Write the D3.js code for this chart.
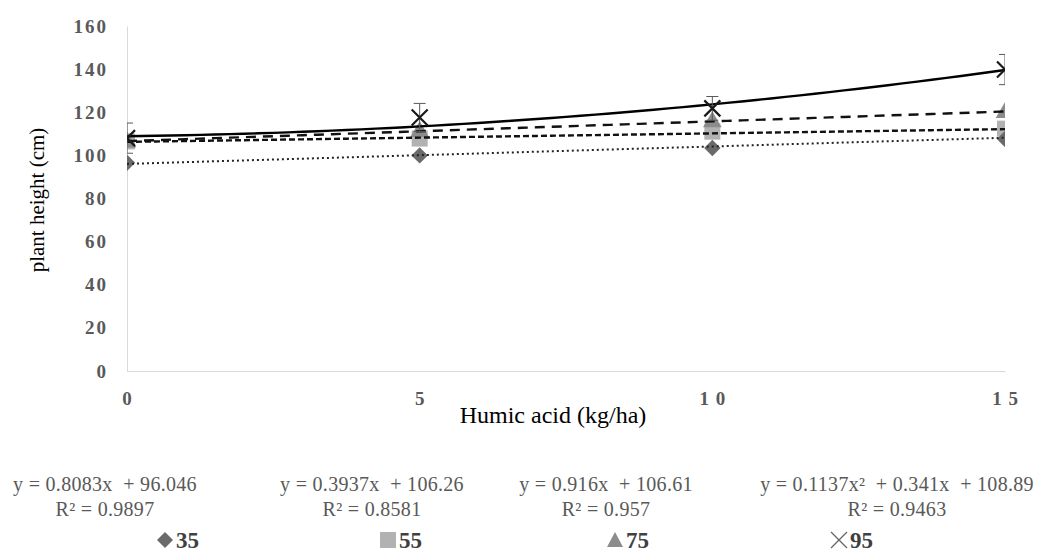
<!DOCTYPE html>
<html>
<head>
<meta charset="utf-8">
<script src="https://d3js.org/d3.v7.min.js"></script>
<style>
  body { margin: 0; background: #fff; }
  svg text { font-family: "Liberation Serif", "Times New Roman", serif; }
</style>
</head>
<body>
<div id="chart"></div>
<script>
// data
const doses = [0, 5, 10, 15];
const yTicks = [0, 20, 40, 60, 80, 100, 120, 140, 160];
const seriesNames = ["35", "55", "75", "95"];
const h35 = [96.6, 100.0, 103.4, 107.6];
const h55 = [106.5, 107.8, 111.0, 112.4];
const h75 = [106.2, 111.0, 115.5, 119.8];
const h95 = [108.0, 117.6, 121.8, 139.8];
const err95 = [7, 6.5, 5.5, 7];
// trendline coefficients [c2, c1, c0] as printed on the chart
const trend35 = [0, 0.8083, 96.046];
const trend55 = [0, 0.3937, 106.26];
const trend75 = [0, 0.916, 106.61];
const trend95 = [0.1137, 0.341, 108.89];
const eqLines = [
  ["y = 0.8083x  + 96.046", "R² = 0.9897"],
  ["y = 0.3937x  + 106.26", "R² = 0.8581"],
  ["y = 0.916x  + 106.61", "R² = 0.957"],
  ["y = 0.1137x²  + 0.341x  + 108.89", "R² = 0.9463"]
];

const W = 1043, H = 552;
const plot = {left: 127, right: 1005, top: 26, bottom: 371};

const svg = d3.select("#chart").append("svg")
  .attr("width", W).attr("height", H);

const x = d3.scaleLinear().domain([0, 15]).range([plot.left, plot.right]);
const y = d3.scaleLinear().domain([0, 160]).range([plot.bottom, plot.top]);

svg.append("defs").append("clipPath").attr("id", "clip")
  .append("rect")
  .attr("x", plot.left).attr("y", plot.top)
  .attr("width", plot.right - plot.left).attr("height", plot.bottom - plot.top);

// axes
const yAxis = svg.append("g")
  .attr("transform", `translate(${plot.left},0)`)
  .call(d3.axisLeft(y).tickValues(yTicks).tickSize(0).tickPadding(19));
yAxis.select(".domain").attr("stroke", "#d9d9d9");
yAxis.selectAll("text")
  .attr("font-size", 19).attr("font-weight", "bold").attr("fill", "#595959")
  .attr("letter-spacing", 2)
  .attr("font-family", "Liberation Serif");

const xAxis = svg.append("g")
  .attr("transform", `translate(0,${plot.bottom})`)
  .call(d3.axisBottom(x).tickValues(doses).tickSize(0).tickPadding(21)
    .tickFormat(d => String(d).split("").join(" ")));
xAxis.select(".domain").attr("stroke", "#d9d9d9");
xAxis.selectAll("text")
  .attr("font-size", 19).attr("font-weight", "bold").attr("fill", "#595959")
  .attr("letter-spacing", 1)
  .attr("font-family", "Liberation Serif");

svg.append("text")
  .attr("x", 553).attr("y", 423)
  .attr("text-anchor", "middle")
  .attr("font-size", 24).attr("fill", "#000")
  .text("Humic acid (kg/ha)");

svg.append("text")
  .attr("transform", "translate(44,200) rotate(-90)")
  .attr("text-anchor", "middle")
  .attr("font-size", 21).attr("fill", "#000")
  .text("plant height  (cm)");

const g = svg.append("g").attr("clip-path", "url(#clip)");

// markers
const pts = (vals) => doses.map((d, i) => ({d, v: vals[i]}));

g.selectAll(".m55").data(pts(h55)).join("rect")
  .attr("x", p => x(p.d) - 8).attr("y", p => y(p.v) - 8)
  .attr("width", 16).attr("height", 16).attr("fill", "#b2b2b2");

g.selectAll(".m75").data(pts(h75)).join("path")
  .attr("transform", p => `translate(${x(p.d)},${y(p.v)})`)
  .attr("d", d3.symbol(d3.symbolTriangle, 150)).attr("fill", "#8c8c8c");

g.selectAll(".m35").data(pts(h35)).join("path")
  .attr("transform", p => `translate(${x(p.d)},${y(p.v)}) rotate(45)`)
  .attr("d", "M-5.8,-5.8H5.8V5.8H-5.8Z").attr("fill", "#6a6a6a");

// trendlines
const trendPts = (c) => d3.range(0, 15.01, 0.25).map(t => [t, c[0] * t * t + c[1] * t + c[2]]);
const line = d3.line().x(p => x(p[0])).y(p => y(p[1]));

g.append("path").attr("d", line(trendPts(trend35)))
  .attr("fill", "none").attr("stroke", "#222").attr("stroke-width", 2)
  .attr("stroke-dasharray", "2,3");
g.append("path").attr("d", line(trendPts(trend55)))
  .attr("fill", "none").attr("stroke", "#111").attr("stroke-width", 2.4)
  .attr("stroke-dasharray", "6,3");
g.append("path").attr("d", line(trendPts(trend75)))
  .attr("fill", "none").attr("stroke", "#111").attr("stroke-width", 2.4)
  .attr("stroke-dasharray", "10,7");
g.append("path").attr("d", line(trendPts(trend95)))
  .attr("fill", "none").attr("stroke", "#000").attr("stroke-width", 2.4);

// error bars for 95
const eb = g.selectAll(".eb").data(pts(h95).map((p, i) => ({...p, e: err95[i]}))).join("g");
eb.append("line")
  .attr("x1", p => x(p.d)).attr("x2", p => x(p.d))
  .attr("y1", p => y(p.v + p.e)).attr("y2", p => y(p.v - p.e))
  .attr("stroke", "#595959").attr("stroke-width", 1);
eb.append("line")
  .attr("x1", p => x(p.d) - 6).attr("x2", p => x(p.d) + 6)
  .attr("y1", p => y(p.v + p.e)).attr("y2", p => y(p.v + p.e))
  .attr("stroke", "#595959").attr("stroke-width", 1);
eb.append("line")
  .attr("x1", p => x(p.d) - 6).attr("x2", p => x(p.d) + 6)
  .attr("y1", p => y(p.v - p.e)).attr("y2", p => y(p.v - p.e))
  .attr("stroke", "#595959").attr("stroke-width", 1);

// X markers for 95
g.selectAll(".m95").data(pts(h95)).join("path")
  .attr("transform", p => `translate(${x(p.d)},${y(p.v)})`)
  .attr("d", "M-8,-8L8,8M-8,8L8,-8")
  .attr("stroke", "#1a1a1a").attr("stroke-width", 2.2).attr("fill", "none");

// trendline equations
const eqX = [105, 372, 606, 897];
eqLines.forEach((ls, i) => {
  ls.forEach((s, j) => {
    svg.append("text")
      .attr("x", eqX[i]).attr("y", 491 + j * 25)
      .attr("text-anchor", "middle")
      .attr("font-size", 20).attr("fill", "#595959")
      .attr("letter-spacing", 0.3)
      .style("white-space", "pre")
      .text(s);
  });
});

// legend
const legX = [165, 388, 615, 839];
const leg = svg.selectAll(".leg").data(seriesNames).join("g")
  .attr("transform", (d, i) => `translate(${legX[i]},540)`);
leg.append("text")
  .attr("x", 11).attr("y", 8)
  .attr("font-size", 23).attr("font-weight", "bold").attr("fill", "#404040")
  .text(d => d);
leg.filter((d, i) => i === 0).append("path")
  .attr("d", "M0,-8L8,0L0,8L-8,0Z").attr("fill", "#6a6a6a");
leg.filter((d, i) => i === 1).append("rect")
  .attr("x", -8).attr("y", -8).attr("width", 16).attr("height", 16).attr("fill", "#b2b2b2");
leg.filter((d, i) => i === 2).append("path")
  .attr("d", "M0,-8L8,7L-8,7Z").attr("fill", "#8c8c8c");
leg.filter((d, i) => i === 3).append("path")
  .attr("d", "M-8,-8L8,8M-8,8L8,-8").attr("stroke", "#666").attr("stroke-width", 1.3);
</script>
</body>
</html>
